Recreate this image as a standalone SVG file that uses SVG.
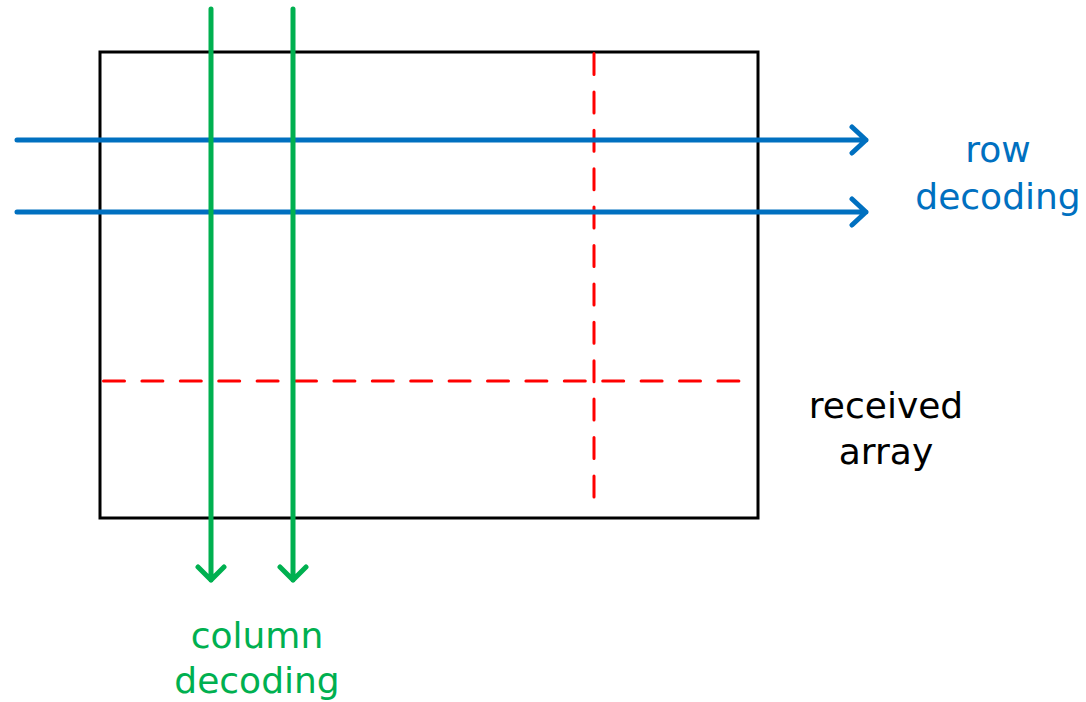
<svg xmlns="http://www.w3.org/2000/svg" width="1086" height="702" viewBox="0 0 1086 702">
  <style>
    .frame { fill: none; stroke: #000; stroke-width: 3; }
    .split { fill: none; stroke: #FF0000; stroke-width: 3; stroke-dasharray: 21 17.4; stroke-linecap: round; }
    .row { fill: none; stroke: #0070C0; stroke-width: 5; stroke-linecap: round; stroke-linejoin: round; }
    .col { fill: none; stroke: #00B050; stroke-width: 5; stroke-linecap: round; stroke-linejoin: round; }
    text { font-family: "DejaVu Sans", "Liberation Sans", sans-serif; font-size: 36px; text-anchor: middle; }
    .t-row { fill: #0070C0; }
    .t-col { fill: #00B050; }
    .t-arr { fill: #000; }
  </style>

  <!-- received array block with its parity split lines -->
  <g id="array">
    <rect class="frame" x="100" y="52" width="658" height="466"/>
    <path class="split" d="M103.5 381 H741"/>
    <path class="split" d="M594 53.5 V500"/>
  </g>

  <!-- decoding passes -->
  <g id="connectors">
    <path class="row" d="M17 140 H866 M852 127 L866 140 L852 153"/>
    <path class="row" d="M17 212 H866 M852 199 L866 212 L852 225"/>
    <path class="col" d="M211 9 V580 M198 567 L211 580 L224 567"/>
    <path class="col" d="M293 9 V580 M280 567 L293 580 L306 567"/>
  </g>

  <g id="row-label">
    <text class="t-row" x="998" y="162">row</text>
    <text class="t-row" x="998" y="209">decoding</text>
  </g>

  <g id="column-label">
    <text class="t-col" x="257" y="648">column</text>
    <text class="t-col" x="257" y="693">decoding</text>
  </g>

  <g id="array-label">
    <text class="t-arr" x="886" y="418">received</text>
    <text class="t-arr" x="886" y="464">array</text>
  </g>
</svg>
